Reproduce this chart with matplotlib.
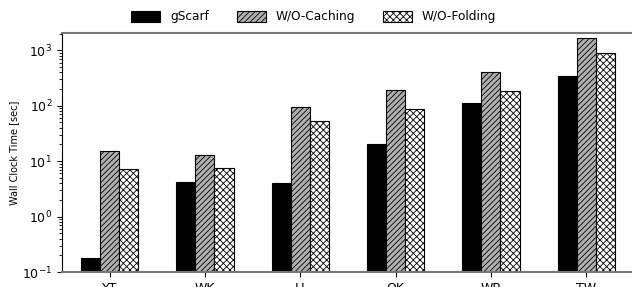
import matplotlib
matplotlib.use('Agg')
import matplotlib.pyplot as plt
import numpy as np

plt.rcParams['font.family'] = ['DejaVu Sans']
plt.rcParams['mathtext.fontset'] = 'cm'
plt.rcParams['hatch.linewidth'] = 0.6

datasets = ['YT', 'WK', 'LJ', 'OK', 'WB', 'TW']
series = ['gScarf', 'W/O-Caching', 'W/O-Folding']
gscarf = [0.18, 4.2, 4.1, 20.8, 110, 345]
wo_caching = [15.3, 12.8, 95, 190, 400, 1700]
wo_folding = [7.1, 7.4, 52, 89, 182, 910]

fig = plt.figure(figsize=(6.32, 2.87), dpi=100)
ax = fig.add_axes([0.098, 0.052, 0.905, 0.833])

x = np.arange(len(datasets))
w = 0.2
ax.bar(x - w, gscarf, w, color='black', edgecolor='black', linewidth=0.8, label=series[0])
ax.bar(x, wo_caching, w, color='#b0b0b0', edgecolor='black', hatch='//////', linewidth=0.8, label=series[1])
ax.bar(x + w, wo_folding, w, color='white', edgecolor='black', hatch='xxxxx', linewidth=0.8, label=series[2])

ax.set_yscale('log')
ax.set_ylim(0.1, 2050)
ax.set_xlim(-0.5, 5.5)
ax.set_xticks(x)
ax.set_xticklabels(datasets, fontsize=9)
ax.tick_params(axis='y', labelsize=9)
ax.set_ylabel('Wall Clock Time [sec]', fontsize=7, labelpad=2)

for s in ['top', 'bottom']:
    ax.spines[s].set_color('#777777')
    ax.spines[s].set_linewidth(1.5)
ax.spines['right'].set_visible(False)

ax.legend(loc='lower center', bbox_to_anchor=(0.44, 0.995), ncol=3, frameon=False,
          fontsize=8.7, handlelength=2.4, columnspacing=2.3, handleheight=1.0)

plt.savefig('out.png', dpi=100)
